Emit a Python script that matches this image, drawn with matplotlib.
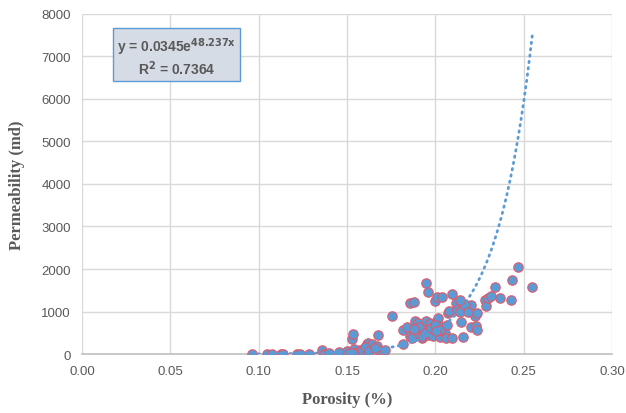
import numpy as np
import matplotlib.pyplot as plt

# porosity (fraction) and permeability (md)
porosity = [
    0.0960, 0.1047, 0.1075, 0.1128, 0.1137, 0.1216, 0.1231, 0.1286,
    0.1357, 0.1370, 0.1385, 0.1399, 0.1455, 0.1498, 0.1508, 0.1526,
    0.1536, 0.1545, 0.1555, 0.1573, 0.1598, 0.1610, 0.1620, 0.1640,
    0.1667, 0.1677, 0.1677, 0.1714, 0.1756, 0.1814, 0.1818, 0.1837,
    0.1856, 0.1865, 0.1856, 0.1878, 0.1884, 0.1902, 0.1908, 0.1925,
    0.1930, 0.1946, 0.1955, 0.1949, 0.1959, 0.1968, 0.1987, 0.1996,
    0.2006, 0.2011, 0.2015, 0.1996, 0.2025, 0.2034, 0.2038, 0.2053,
    0.2057, 0.2068, 0.2077, 0.2096, 0.2096, 0.2115, 0.2119, 0.2137,
    0.2147, 0.2156, 0.2175, 0.2203, 0.2203, 0.2226, 0.2235, 0.2231,
    0.2235, 0.2278, 0.2288, 0.2297, 0.2316, 0.2335, 0.2365, 0.2425,
    0.2434, 0.2466, 0.2548,
    0.1905, 0.1925, 0.1940, 0.1972, 0.1998, 0.2024, 0.2063, 0.2005,
    0.1540, 0.1600, 0.1625, 0.1560, 0.1540, 0.1530, 0.1655, 0.2165,
    0.2140, 0.1880, 0.2183,
]
permeability = [
    0, 0, 10, 0, 0, 0, 0, 0,
    100, 10, 10, 15, 55, 80, 15, 350,
    470, 0, 15, 100, 0, 235, 260, 230,
    195, 450, 95, 85, 900, 235, 565, 630,
    430, 370, 1190, 1230, 785, 720, 470, 375,
    590, 1660, 1450, 785, 450, 720, 430, 1255,
    1335, 785, 850, 570, 390, 630, 1335, 495,
    370, 955, 1020, 1420, 370, 1190, 1040, 1000,
    760, 410, 1160, 1160, 635, 900, 955, 665,
    565, 1280, 1120, 1315, 1355, 1585, 1315, 1260,
    1750, 2055, 1570,
    640, 420, 500, 610, 690, 560, 680, 540,
    110, 170, 60, 40, 20, 30, 130, 1150,
    1260, 600, 1000,
]

# exponential trendline shown on the chart
coef_a = 0.0345
coef_b = 48.237
r_squared = 0.7364

grey = "#595959"
blue = "#5B9BD5"

fig = plt.figure(figsize=(6.26, 4.14), dpi=100)
ax = fig.add_axes([0.131, 0.1425, 0.847, 0.8213])

ax.scatter(porosity, permeability, s=46, color=blue, edgecolors="#E05A6B",
           linewidths=0.8, zorder=3)

xt = np.linspace(min(porosity), max(porosity), 200)
ax.plot(xt, coef_a * np.exp(coef_b * xt), linestyle=(0, (0.5, 1.8)),
        color=blue, lw=2.0, zorder=4, dash_capstyle="round")

ax.set_xlim(0, 0.30)
ax.set_ylim(0, 8000)
ax.set_xticks(np.arange(0, 0.301, 0.05))
ax.set_yticks(np.arange(0, 8001, 1000))
ax.set_xticklabels([f"{v:.2f}" for v in np.arange(0, 0.301, 0.05)])
ax.grid(True, color="#D9D9D9", lw=1)
ax.set_axisbelow(True)
for side in ["left", "right", "top"]:
    ax.spines[side].set_visible(False)
ax.spines["bottom"].set_color("#BFBFBF")
ax.spines["bottom"].set_linewidth(1.2)
ax.tick_params(length=0, labelsize=9.5, labelcolor=grey, pad=8)
for lab in ax.get_xticklabels() + ax.get_yticklabels():
    lab.set_family("Liberation Sans")

ax.set_xlabel("Porosity (%)", family="Liberation Serif", fontweight="bold",
              fontsize=12, color=grey, labelpad=10)
ax.set_ylabel("Permeability (md)", family="Liberation Serif", fontweight="bold",
              fontsize=12, color=grey, labelpad=12)

ax.text(0.0535, 7010,
        f"y = {coef_a}e$^{{\\mathbf{{{coef_b}x}}}}$\nR$^{{\\mathbf{{2}}}}$ = {r_squared}",
        ha="center", va="center", fontsize=10, fontweight="bold", color=grey,
        family="Liberation Sans", linespacing=1.05,
        bbox=dict(boxstyle="square,pad=0.3", fc="#D6DCE5", ec=blue, lw=1))

fig.savefig("out.png", dpi=100)
